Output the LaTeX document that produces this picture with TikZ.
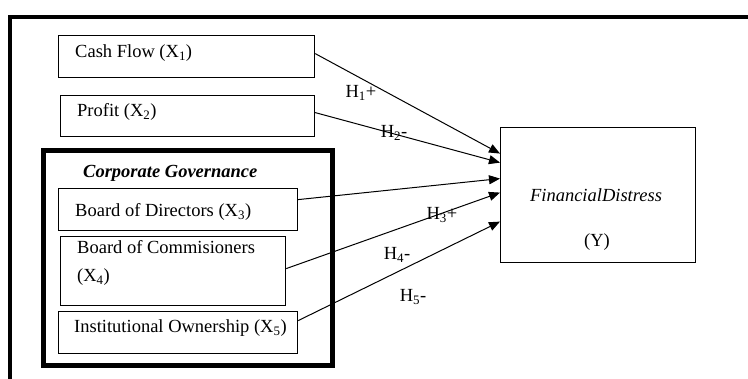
\documentclass[tikz,border=0pt]{standalone}
\usepackage{fontspec}
\setmainfont{Liberation Serif}
\usetikzlibrary{arrows.meta}
\newcommand{\fsz}{\fontsize{18.5}{20}\selectfont}
\begin{document}
\begin{tikzpicture}[x=1pt,y=-1pt,
  box/.style={draw, line width=1.2pt, minimum width=#1, inner sep=0pt, anchor=north west},
  lbl/.style={font=\fsz, inner sep=0pt, anchor=west},
  hyp/.style={font=\fsz, inner sep=0pt},
  arr/.style={line width=1pt, -{Triangle[length=11pt,width=9pt]}}]
\useasboundingbox (0,0) rectangle (748,379);
% outer frame (cropped)
\draw[line width=4pt] (10,381) -- (10,17) -- (750,17);
% corporate governance group
\node[draw, line width=5pt, minimum width=289pt, minimum height=215pt, inner sep=0pt, anchor=north west] (cg) at (40.5,148) {};
\node[font=\fsz\bfseries\itshape, inner sep=0pt, anchor=west] (cgt) at (83,173) {Corporate Governance};
% boxes
\node[box=256pt, minimum height=42pt] (cf) at (58,35) {};
\node[box=254pt, minimum height=41pt] (pr) at (60,95) {};
\node[box=239pt, minimum height=42pt] (bd) at (58,188) {};
\node[box=225pt, minimum height=69pt] (bc) at (60,236) {};
\node[box=239pt, minimum height=42pt] (io) at (58,311) {};
\node[box=195pt, minimum height=135pt] (fd) at (500,127) {};
% texts
\node[lbl] (cft) at (75,53) {Cash Flow (X\textsubscript{1})};
\node[lbl] (prt) at (77,112) {Profit (X\textsubscript{2})};
\node[lbl] (bdt) at (75,212) {Board of Directors (X\textsubscript{3})};
\node[lbl] (bct1) at (77,247) {Board of Commisioners};
\node[lbl] (bct2) at (77,277) {(X\textsubscript{4})};
\node[lbl] (iot) at (74,328) {Institutional Ownership (X\textsubscript{5})};
\node[hyp, font=\fsz\itshape] (fdt) at (596,195) {FinancialDistress};
\node[hyp] (fdy) at (597,242) {(Y)};
% arrows
\draw[arr] ([yshift=3pt]cf.east) -- ([yshift=41.5pt]fd.west);
\draw[arr] ([yshift=3.5pt]pr.east) -- ([yshift=32.5pt]fd.west);
\draw[arr] ([yshift=10pt]bd.east) -- ([yshift=16.5pt]fd.west);
\draw[arr] ([yshift=2.5pt]bc.east) -- ([yshift=2.5pt]fd.west);
\draw[arr] ([yshift=12pt]io.east) -- ([yshift=-26.5pt]fd.west);
% hypothesis labels
\node[hyp] (h1) at (361,93) {H\textsubscript{1}+};
\node[hyp] (h2) at (394,133) {H\textsubscript{2}-};
\node[hyp] (h3) at (442,215) {H\textsubscript{3}+};
\node[hyp] (h4) at (397,255) {H\textsubscript{4}-};
\node[hyp] (h5) at (413,297) {H\textsubscript{5}-};
\end{tikzpicture}
\end{document}
